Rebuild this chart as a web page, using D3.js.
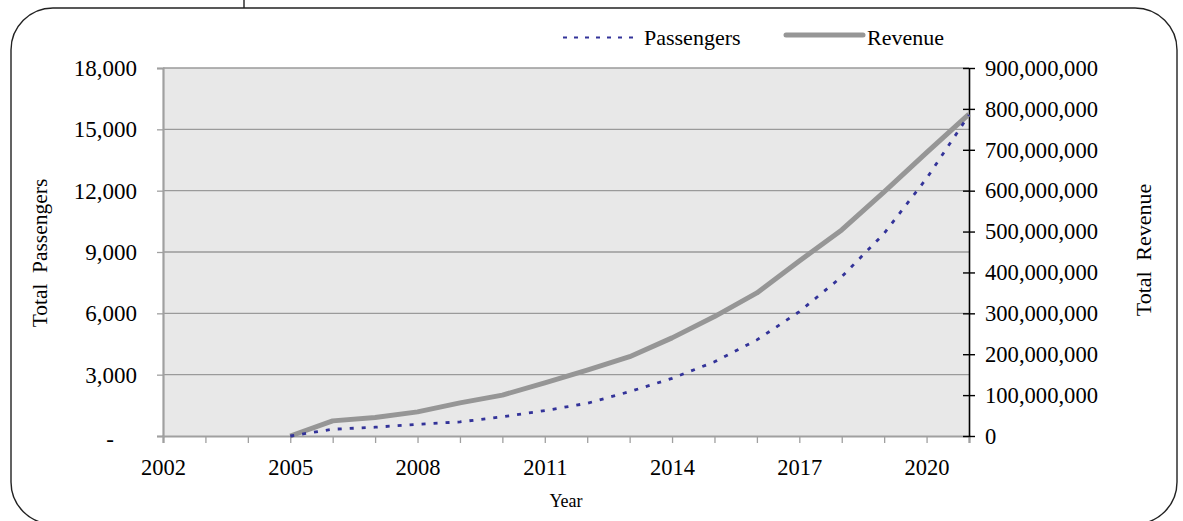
<!DOCTYPE html>
<html>
<head>
<meta charset="utf-8">
<script src="https://cdn.jsdelivr.net/npm/d3@7/dist/d3.min.js"></script>
<style>
  html, body { margin: 0; padding: 0; background: #fff; }
  svg { display: block; }
  text { font-family: "Liberation Serif", "Times New Roman", serif; fill: #000; }
</style>
</head>
<body>
<svg id="chart" width="1183" height="521"></svg>
<script>
// ---- data ----
const years = [2005, 2006, 2007, 2008, 2009, 2010, 2011, 2012, 2013, 2014, 2015, 2016, 2017, 2018, 2019, 2020, 2021];
const passengers = [0, 330, 430, 570, 690, 940, 1240, 1600, 2170, 2820, 3630, 4700, 6080, 7790, 9910, 12600, 15700];
const revenue = [0, 37e6, 45e6, 59e6, 81e6, 100e6, 130e6, 161e6, 194e6, 240e6, 292e6, 350e6, 428e6, 504e6, 597e6, 693e6, 787e6];
const xTickYears = [2002, 2003, 2004, 2005, 2006, 2007, 2008, 2009, 2010, 2011, 2012, 2013, 2014, 2015, 2016, 2017, 2018, 2019, 2020, 2021];
const xLabelYears = [2002, 2005, 2008, 2011, 2014, 2017, 2020];
const leftTicks = [0, 3000, 6000, 9000, 12000, 15000, 18000];
const rightTicks = [0, 100e6, 200e6, 300e6, 400e6, 500e6, 600e6, 700e6, 800e6, 900e6];
const seriesNames = ["Passengers", "Revenue"];

const svg = d3.select("#chart");
const L = 163, R = 969, T = 68, B = 436;

const x = d3.scaleLinear().domain([2002, 2021]).range([L, R]);
const yL = d3.scaleLinear().domain([0, 18000]).range([B, T]);
const yR = d3.scaleLinear().domain([0, 900e6]).range([B, T]);

// outer frame
svg.append("rect").attr("x", 11).attr("y", 8).attr("width", 1166).attr("height", 516)
  .attr("rx", 42).attr("ry", 42).attr("fill", "none").attr("stroke", "#222").attr("stroke-width", 1.4);
svg.append("line").attr("x1", 244).attr("x2", 244).attr("y1", 0).attr("y2", 8)
  .attr("stroke", "#222").attr("stroke-width", 1.4);

// plot background
svg.append("rect").attr("x", L).attr("y", T).attr("width", R - L).attr("height", B - T).attr("fill", "#e8e8e8");

// gridlines
svg.append("g").selectAll("line").data(leftTicks.filter(d => d > 0)).join("line")
  .attr("x1", L).attr("x2", R).attr("y1", d => yL(d)).attr("y2", d => yL(d))
  .attr("stroke", "#9a9a9a").attr("stroke-width", 1.3);

// left axis
const fmt = d3.format(",");
const gL = svg.append("g").attr("transform", `translate(${L},0)`)
  .call(d3.axisLeft(yL).tickValues(leftTicks).tickSize(6).tickPadding(20)
    .tickFormat(d => d === 0 ? "-" : fmt(d)));
gL.select(".domain").attr("stroke", "#a0a0a0").attr("stroke-width", 2.2);
gL.selectAll(".tick line").attr("stroke", "#a0a0a0").attr("stroke-width", 1.3);
gL.selectAll(".tick text").attr("font-size", 23).attr("font-family", "Liberation Serif").attr("fill", "#000");
gL.selectAll(".tick text").filter(d => d === 0).attr("text-anchor", "middle").attr("x", 110 - L).attr("dy", "0.45em");

// bottom axis
const gB = svg.append("g").attr("transform", `translate(0,${B})`)
  .call(d3.axisBottom(x).tickValues(xTickYears).tickSize(7).tickPadding(16)
    .tickFormat(d => xLabelYears.includes(d) ? String(d) : ""));
gB.select(".domain").attr("stroke", "#a0a0a0").attr("stroke-width", 2.2);
gB.selectAll(".tick line").attr("stroke", "#a0a0a0").attr("stroke-width", 1.3);
gB.selectAll(".tick text").attr("font-size", 22.5).attr("font-family", "Liberation Serif").attr("fill", "#000");

// right axis
const gR = svg.append("g").attr("transform", `translate(${R},0)`)
  .call(d3.axisRight(yR).tickValues(rightTicks).tickSizeInner(6).tickSizeOuter(0).tickPadding(10)
    .tickFormat(d => fmt(d)));
gR.select(".domain").attr("stroke", "#000").attr("stroke-width", 1.6);
gR.selectAll(".tick line").attr("stroke", "#000").attr("stroke-width", 1.4).attr("x1", -6);
gR.selectAll(".tick text").attr("font-size", 22.6).attr("font-family", "Liberation Serif").attr("fill", "#000");

// series lines
const revLine = d3.line().x((d, i) => x(years[i])).y(d => yR(d));
const pasLine = d3.line().x((d, i) => x(years[i])).y(d => yL(d));

svg.append("path").datum(revenue).attr("d", revLine)
  .attr("fill", "none").attr("stroke", "#969696").attr("stroke-width", 5).attr("stroke-linejoin", "round");
svg.append("path").datum(passengers).attr("d", pasLine)
  .attr("fill", "none").attr("stroke", "#333399").attr("stroke-width", 2.8).attr("stroke-dasharray", "4,8");

// legend
const lg = svg.append("g");
lg.append("line").attr("x1", 563).attr("x2", 640).attr("y1", 37.5).attr("y2", 37.5)
  .attr("stroke", "#333399").attr("stroke-width", 1.8).attr("stroke-dasharray", "4,7");
lg.append("text").attr("x", 644).attr("y", 44.5).attr("font-size", 22).text(seriesNames[0]);
lg.append("line").attr("x1", 786).attr("x2", 863).attr("y1", 35).attr("y2", 35)
  .attr("stroke", "#969696").attr("stroke-width", 5).attr("stroke-linecap", "round");
lg.append("text").attr("x", 867).attr("y", 44.5).attr("font-size", 22).text(seriesNames[1]);

// axis titles
svg.append("text").attr("x", 566).attr("y", 507).attr("text-anchor", "middle").attr("font-size", 18).text("Year");
svg.append("text").attr("transform", "translate(47,253) rotate(-90)").attr("text-anchor", "middle")
  .attr("font-size", 21.5).attr("word-spacing", 5).text("Total Passengers");
svg.append("text").attr("transform", "translate(1151,250) rotate(-90)").attr("text-anchor", "middle")
  .attr("font-size", 22).attr("word-spacing", 5).text("Total Revenue");
</script>
</body>
</html>
